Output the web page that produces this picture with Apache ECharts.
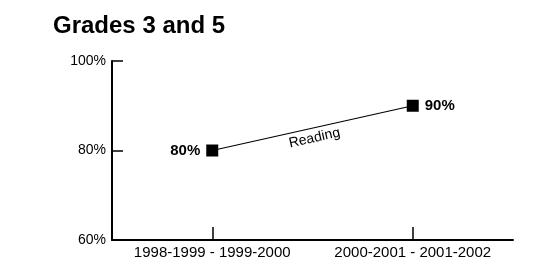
<!DOCTYPE html>
<html><head><meta charset="utf-8">
<script src="https://cdn.jsdelivr.net/npm/echarts@6/dist/echarts.min.js"></script>
<style>html,body{margin:0;padding:0;background:#fff}#c{width:556px;height:266px}</style>
</head><body><div id="c"></div>
<script>
const categories = ['1998-1999 - 1999-2000', '2000-2001 - 2001-2002'];
const readingValues = [80, 90];
const seriesName = 'Reading';
const yTicks = [60, 80, 100];
const titleText = 'Grades 3 and 5';

const chart = echarts.init(document.getElementById('c'), null, {renderer: 'canvas'});
const font = 'Liberation Sans, Arial, Helvetica, sans-serif';
const option = {
  animation: false,
  title: {text: titleText, left: 48, top: 9, textStyle: {fontFamily: font, fontSize: 24, fontWeight: 'bold', color: '#000'}},
  grid: {left: 112, right: 43, top: 61, bottom: 26},
  xAxis: {
    type: 'category', data: categories, boundaryGap: true,
    axisLine: {show: true, lineStyle: {color: '#000', width: 2}},
    axisTick: {show: true, inside: true, length: 13, alignWithLabel: true, interval: 0, lineStyle: {color: '#000', width: 1.5}},
    axisLabel: {fontFamily: font, fontSize: 15, color: '#000', margin: 5, interval: 0},
    splitLine: {show: false}
  },
  yAxis: {
    type: 'value', min: yTicks[0], max: yTicks[yTicks.length - 1], interval: yTicks[1] - yTicks[0],
    axisLine: {show: true, lineStyle: {color: '#000', width: 2}},
    axisTick: {show: true, inside: true, length: 11, lineStyle: {color: '#000', width: 1.5}},
    axisLabel: {fontFamily: font, fontSize: 14, color: '#000', margin: 6, formatter: v => v + '%'},
    splitLine: {show: false}
  },
  series: [{
    name: seriesName, type: 'line',
    symbol: 'rect', symbolSize: 12,
    lineStyle: {color: '#000', width: 1.2},
    itemStyle: {color: '#000'},
    label: {
      show: true, fontFamily: font, fontSize: 15, fontWeight: 'bold', color: '#000',
      formatter: p => p.value + '%', distance: 6
    },
    data: readingValues.map((v, i) => ({value: v, label: {position: i === 0 ? 'left' : 'right'}}))
  }]
};
chart.setOption(option);
const p0 = chart.convertToPixel({gridIndex: 0}, [0, readingValues[0]]);
const p1 = chart.convertToPixel({gridIndex: 0}, [1, readingValues[1]]);
const ang = Math.atan2(p0[1] - p1[1], p1[0] - p0[0]);
const mx = (p0[0] + p1[0]) / 2, my = (p0[1] + p1[1]) / 2;
chart.setOption({graphic: [{
  type: 'text', x: mx + 2, y: my + 10, rotation: ang, originX: 0, originY: 0,
  style: {text: seriesName, fontFamily: font, fontSize: 14, fill: '#000', align: 'center', verticalAlign: 'middle'}
}]});
</script></body></html>
